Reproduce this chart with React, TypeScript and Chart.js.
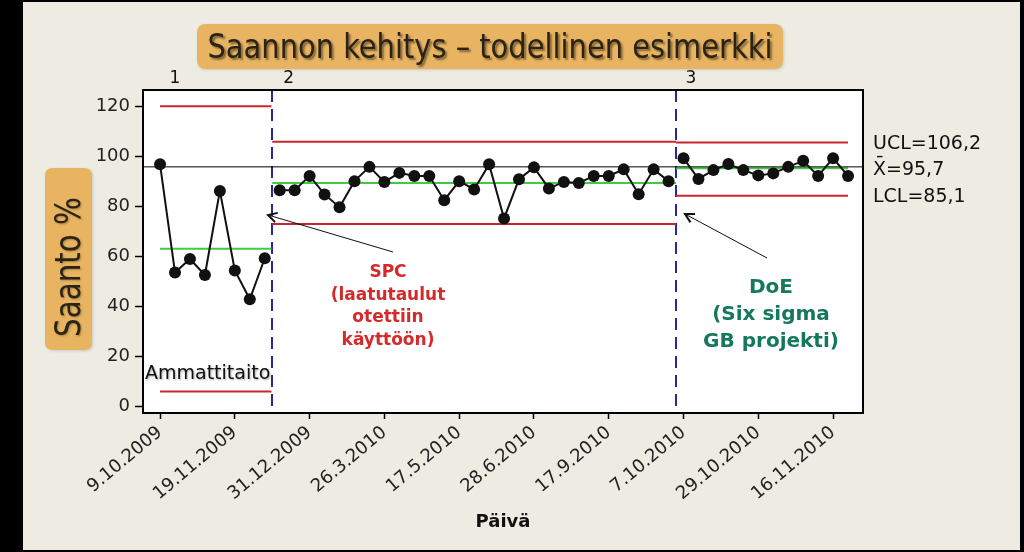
import React, { useEffect, useRef } from "react";
import { Chart, registerables } from "chart.js";

Chart.register(...registerables);

// ---- data ----
const dateLabels = ["9.10.2009", "19.11.2009", "31.12.2009", "26.3.2010", "17.5.2010", "28.6.2010", "17.9.2010", "7.10.2010", "29.10.2010", "16.11.2010"];
const tickObs = [1, 6, 11, 16, 21, 26, 31, 36, 41, 46];
const yTicks = [0, 20, 40, 60, 80, 100, 120];

const stage1 = [96.8, 53.6, 59.0, 52.6, 86.2, 54.4, 42.9, 59.3];
const stage2 = [86.5, 86.5, 92.2, 84.8, 79.7, 90.1, 95.8, 89.8, 93.4, 92.2, 92.2, 82.5, 90.1, 86.8, 96.8, 75.2, 90.9, 95.6, 87.2, 89.8, 89.4, 92.2, 92.2, 94.8, 84.9, 94.8, 90.1];
const stage3 = [99.2, 91.0, 94.5, 96.9, 94.5, 92.4, 93.2, 95.8, 98.2, 92.2, 99.2, 92.2];

const uclValues = [120, 105.8, 105.5];
const centerValues = [63.1, 89.4, 95.2];
const lclValues = [6.1, 73.0, 84.3];
const stageStart = [1, 8.5, 35.5];
const stageEnd = [8.45, 35.5, 47];
const stageChanges = [8.5, 35.5];
const referenceLine = 95.8;

const stageNames = ["1", "2", "3"];
const limitLabels = ["UCL=106,2", "X\u0304=95,7", "LCL=85,1"];
const titleText = "Saannon kehitys \u2013 todellinen esimerkki";
const yTitle = "Saanto %";
const xTitle = "Päivä";
const spcText = ["SPC", "(laatutaulut", "otettiin", "käyttöön)"];
const doeText = ["DoE", "(Six sigma", "GB projekti)"];
const skillText = "Ammattitaito";

const X_MIN = -0.14;
const X_MAX = 48.0;
const Y_MIN = -2.5;
const Y_MAX = 126.5;

const RED = "#c8262e";
const GREEN = "#3fcc3f";
const BLUE = "#28289c";
const ORANGE = "#e8b462";
const BEIGE = "#eeebe3";
const FONT = "'DejaVu Sans', Verdana, sans-serif";
const NARROW = "'DejaVu Sans Condensed', 'Liberation Sans Narrow', 'DejaVu Sans', sans-serif";

function roundRect(ctx: CanvasRenderingContext2D, x: number, y: number, w: number, h: number, r: number) {
  ctx.beginPath();
  ctx.moveTo(x + r, y);
  ctx.lineTo(x + w - r, y);
  ctx.quadraticCurveTo(x + w, y, x + w, y + r);
  ctx.lineTo(x + w, y + h - r);
  ctx.quadraticCurveTo(x + w, y + h, x + w - r, y + h);
  ctx.lineTo(x + r, y + h);
  ctx.quadraticCurveTo(x, y + h, x, y + h - r);
  ctx.lineTo(x, y + r);
  ctx.quadraticCurveTo(x, y, x + r, y);
  ctx.closePath();
}

function fittedText(ctx: CanvasRenderingContext2D, text: string, cx: number, baseline: number, width: number) {
  const m = ctx.measureText(text).width;
  ctx.save();
  ctx.translate(cx, baseline);
  ctx.scale(width / m, 1);
  ctx.textAlign = "center";
  ctx.fillText(text, 0, 0);
  ctx.restore();
}

function arrow(ctx: CanvasRenderingContext2D, x1: number, y1: number, x2: number, y2: number) {
  ctx.save();
  ctx.strokeStyle = "#111";
  ctx.lineWidth = 1;
  ctx.beginPath();
  ctx.moveTo(x1, y1);
  ctx.lineTo(x2, y2);
  ctx.stroke();
  const a = Math.atan2(y2 - y1, x2 - x1);
  const L = 10;
  const w = 0.5;
  ctx.lineWidth = 2;
  ctx.beginPath();
  ctx.moveTo(x2 - L * Math.cos(a - w), y2 - L * Math.sin(a - w));
  ctx.lineTo(x2, y2);
  ctx.lineTo(x2 - L * Math.cos(a + w), y2 - L * Math.sin(a + w));
  ctx.stroke();
  ctx.restore();
}

const decorPlugin = {
  id: "decor",
  beforeDraw(chart: any) {
    const { ctx, chartArea } = chart;
    ctx.save();
    ctx.fillStyle = "#000";
    ctx.fillRect(0, 0, 1024, 552);
    ctx.fillStyle = BEIGE;
    ctx.fillRect(23, 2, 997, 548);
    ctx.fillStyle = "#fff";
    ctx.fillRect(chartArea.left, chartArea.top, chartArea.right - chartArea.left, chartArea.bottom - chartArea.top);

    // title box
    ctx.shadowColor = "rgba(0,0,0,0.15)";
    ctx.shadowBlur = 3;
    ctx.shadowOffsetX = 1;
    ctx.shadowOffsetY = 1;
    ctx.fillStyle = ORANGE;
    roundRect(ctx, 197, 24, 586, 45, 9);
    ctx.fill();
    // y title box
    roundRect(ctx, 45, 168, 47, 182, 8);
    ctx.fill();
    ctx.restore();

    // title text
    ctx.save();
    ctx.font = `34px ${NARROW}`;
    ctx.shadowColor = "rgba(0,0,0,0.45)";
    ctx.shadowBlur = 2;
    ctx.shadowOffsetX = 2;
    ctx.shadowOffsetY = 2;
    ctx.fillStyle = "#2b2414";
    fittedText(ctx, titleText, 490, 58, 565);
    ctx.restore();

    // y title text (rotated)
    ctx.save();
    ctx.translate(80, 267);
    ctx.rotate(-Math.PI / 2);
    ctx.font = `36px ${NARROW}`;
    ctx.shadowColor = "rgba(0,0,0,0.3)";
    ctx.shadowBlur = 2;
    ctx.shadowOffsetX = 1;
    ctx.shadowOffsetY = 1;
    ctx.fillStyle = "#2b2414";
    fittedText(ctx, yTitle, 0, 0, 140);
    ctx.restore();
  },
  beforeDatasetsDraw(chart: any) {
    const { ctx, chartArea, scales } = chart;
    ctx.save();
    ctx.strokeStyle = BLUE;
    ctx.lineWidth = 2;
    ctx.setLineDash([12, 7]);
    stageChanges.forEach((v) => {
      const x = Math.round(scales.x.getPixelForValue(v));
      ctx.beginPath();
      ctx.moveTo(x, chartArea.top);
      ctx.lineTo(x, chartArea.bottom);
      ctx.stroke();
    });
    ctx.restore();
  },
  afterDatasetsDraw(chart: any) {
    const { ctx, chartArea, scales } = chart;
    ctx.save();
    ctx.strokeStyle = "#000";
    ctx.lineWidth = 2;
    ctx.strokeRect(chartArea.left, chartArea.top, chartArea.right - chartArea.left, chartArea.bottom - chartArea.top);
    ctx.restore();

    // stage numbers
    ctx.save();
    ctx.fillStyle = "#111";
    ctx.font = `17px ${FONT}`;
    ctx.textAlign = "center";
    const stageLabelPos = [2.0, 9.6, 36.5];
    stageNames.forEach((s, i) => {
      ctx.fillText(s, scales.x.getPixelForValue(stageLabelPos[i]), 83);
    });
    ctx.restore();

    // limit labels on the right
    ctx.save();
    ctx.fillStyle = "#111";
    ctx.font = `19px ${FONT}`;
    ctx.textAlign = "left";
    const lastIdx = uclValues.length - 1;
    const levels = [uclValues[lastIdx], centerValues[lastIdx], lclValues[lastIdx]];
    limitLabels.forEach((t, i) => {
      ctx.fillText(t, chartArea.right + 10, scales.y.getPixelForValue(levels[i]) + 6.5);
    });
    ctx.restore();

    // x title
    ctx.save();
    ctx.fillStyle = "#111";
    ctx.font = `bold 18px ${FONT}`;
    ctx.textAlign = "center";
    ctx.fillText(xTitle, (chartArea.left + chartArea.right) / 2, 527);
    ctx.restore();

    // SPC annotation
    ctx.save();
    ctx.fillStyle = "#d42a2a";
    ctx.font = `bold 17px ${FONT}`;
    ctx.textAlign = "center";
    const spcBase = [277, 299.5, 322, 344.5];
    spcText.forEach((t, i) => ctx.fillText(t, 388, spcBase[i]));
    ctx.restore();

    // DoE annotation
    ctx.save();
    ctx.fillStyle = "#16785a";
    ctx.font = `bold 20px ${FONT}`;
    ctx.textAlign = "center";
    const doeBase = [293, 320, 347];
    doeText.forEach((t, i) => ctx.fillText(t, 771, doeBase[i]));
    ctx.restore();

    // Ammattitaito
    ctx.save();
    ctx.fillStyle = "#111";
    ctx.font = `19px ${FONT}`;
    ctx.shadowColor = "rgba(0,0,0,0.35)";
    ctx.shadowBlur = 2;
    ctx.shadowOffsetX = 1;
    ctx.shadowOffsetY = 1;
    ctx.textAlign = "left";
    ctx.fillText(skillText, 145, 379);
    ctx.restore();

    // arrows
    arrow(ctx, 393, 252, 268, 215);
    arrow(ctx, 767, 258, 685, 214);
  },
};

export default function App() {
  const ref = useRef<HTMLCanvasElement>(null);
  useEffect(() => {
    const canvas = ref.current;
    if (!canvas) return;

    const pointStyle = {
      borderColor: "#111",
      backgroundColor: "#111",
      borderWidth: 2,
      pointRadius: 6,
      pointBackgroundColor: "#111",
      pointBorderColor: "#111",
      pointBorderWidth: 0,
      pointStyle: "circle" as const,
      showLine: true,
      tension: 0,
    };
    let obs = 1;
    const stageSeries = [stage1, stage2, stage3].map((arr) =>
      arr.map((v) => ({ x: obs++, y: v }))
    );
    const dataDatasets = stageSeries.map((d) => ({ ...pointStyle, data: d }));

    const limitDataset = (vals: number[], color: string) =>
      vals.map((v, i) => ({
        data: [
          { x: stageStart[i], y: v },
          { x: stageEnd[i], y: v },
        ],
        borderColor: color,
        borderWidth: 2,
        pointRadius: 0,
        showLine: true,
        fill: false,
      }));

    const chart = new Chart(canvas, {
      type: "scatter",
      data: {
        datasets: [
          ...dataDatasets,
          {
            data: [
              { x: X_MIN, y: referenceLine },
              { x: X_MAX, y: referenceLine },
            ],
            borderColor: "#000",
            borderWidth: 1,
            pointRadius: 0,
            showLine: true,
          },
          ...limitDataset(centerValues, GREEN),
          ...limitDataset(uclValues, RED),
          ...limitDataset(lclValues, RED),
        ] as any,
      },
      options: {
        responsive: false,
        animation: false,
        devicePixelRatio: 1,
        events: [],
        layout: { padding: { left: 0, top: 90, right: 161, bottom: 0 } },
        plugins: {
          legend: { display: false },
          tooltip: { enabled: false },
          title: { display: false },
        },
        scales: {
          x: {
            type: "linear",
            min: X_MIN,
            max: X_MAX,
            afterBuildTicks: (scale: any) => {
              scale.ticks = tickObs.map((v) => ({ value: v }));
            },
            afterFit: (scale: any) => {
              scale.height = 139;
            },
            border: { display: false },
            grid: {
              display: true,
              drawOnChartArea: false,
              drawTicks: true,
              tickLength: 6,
              tickWidth: 1.5,
              tickColor: "#000",
            },
            ticks: {
              autoSkip: false,
              minRotation: 40,
              maxRotation: 40,
              padding: 3,
              color: "#222",
              font: { family: FONT, size: 18 },
              callback: (_v: any, i: number) => dateLabels[i],
            },
          },
          y: {
            type: "linear",
            min: Y_MIN,
            max: Y_MAX,
            afterBuildTicks: (scale: any) => {
              scale.ticks = yTicks.map((v) => ({ value: v }));
            },
            afterFit: (scale: any) => {
              scale.width = 143;
            },
            border: { display: false },
            grid: {
              display: true,
              drawOnChartArea: false,
              drawTicks: true,
              tickLength: 8,
              tickWidth: 1.5,
              tickColor: "#000",
            },
            ticks: {
              padding: 5,
              color: "#222",
              font: { family: FONT, size: 18 },
            },
          },
        },
      } as any,
      plugins: [decorPlugin],
    });
    return () => chart.destroy();
  }, []);

  return (
    <div style={{ position: "fixed", left: 0, top: 0, width: 1024, height: 552 }}>
      <canvas ref={ref} width={1024} height={552} style={{ display: "block", width: 1024, height: 552 }} />
    </div>
  );
}
